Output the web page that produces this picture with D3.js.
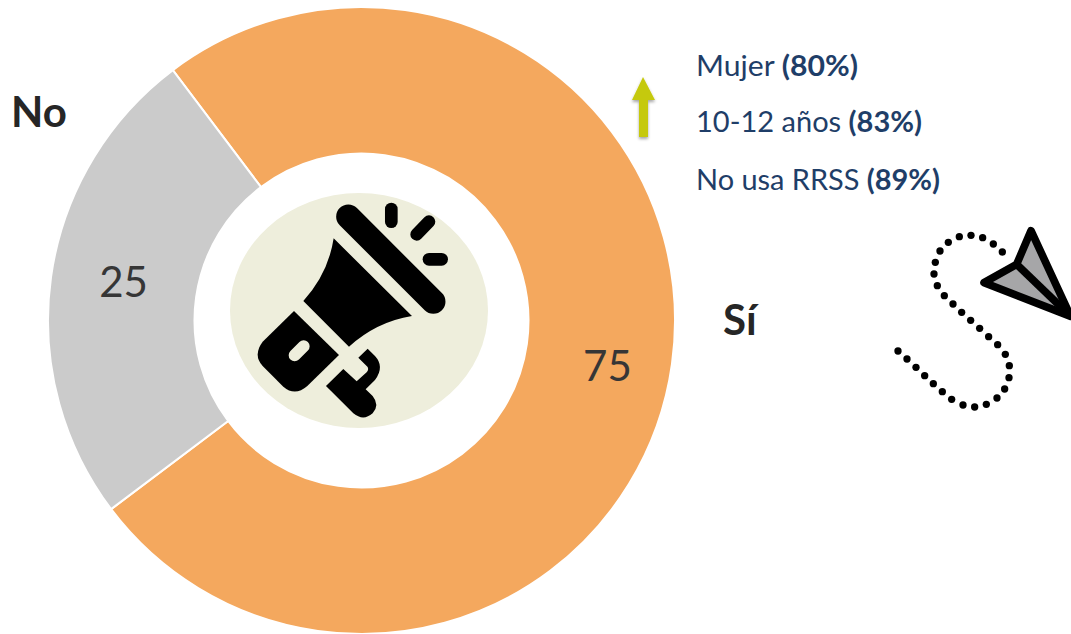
<!DOCTYPE html>
<html>
<head>
<meta charset="utf-8">
<script src="https://cdn.jsdelivr.net/npm/d3@7"></script>
<style>
  html, body { margin: 0; padding: 0; background: #fff; overflow: hidden; }
  svg { display: block; }
  text { font-family: Lato, "Open Sans", sans-serif; }
</style>
</head>
<body>
<div id="chart"></div>
<script>
const categories = ["Sí", "No"];
const values = [75, 25];
const sliceColors = ["#f4a85e", "#cbcbcb"];

const highlightLabels = ["Mujer", "10-12 años", "No usa RRSS"];
const highlightValues = [80, 83, 89];

const width = 1071, height = 634;
const cx = 361.5, cy = 320.5;
const outerRadius = 313.5, innerRadius = 167;

const svg = d3.select("#chart").append("svg")
    .attr("width", width)
    .attr("height", height);

const defs = svg.append("defs");
const blur = defs.append("filter").attr("id", "shadow")
    .attr("x", "-50%").attr("y", "-20%").attr("width", "200%").attr("height", "140%");
blur.append("feDropShadow")
    .attr("dx", 0).attr("dy", 2).attr("stdDeviation", 1.5)
    .attr("flood-color", "#000").attr("flood-opacity", 0.35);

// donut
const pie = d3.pie().sort(null).startAngle(-37 * Math.PI / 180).endAngle(323 * Math.PI / 180);
const arc = d3.arc().innerRadius(innerRadius).outerRadius(outerRadius);
const arcs = pie(values);

const donut = svg.append("g").attr("transform", "translate(" + cx + "," + cy + ")");

donut.selectAll("path")
    .data(arcs)
    .enter().append("path")
    .attr("d", arc)
    .attr("fill", function (d, i) { return sliceColors[i]; })
    .attr("stroke", "#fff")
    .attr("stroke-width", 2);

const valueNudge = [[8, 11], [0, -6]];
donut.selectAll(".value")
    .data(arcs)
    .enter().append("text")
    .attr("class", "value")
    .attr("x", function (d, i) { return arc.centroid(d)[0] + valueNudge[i][0]; })
    .attr("y", function (d, i) { return arc.centroid(d)[1] + valueNudge[i][1]; })
    .attr("text-anchor", "middle")
    .attr("dominant-baseline", "central")
    .attr("font-size", 42)
    .attr("fill", "#363636")
    .text(function (d) { return d.value; });

// category names
const categoryPos = [[723, 335], [11, 127]];
svg.selectAll(".category")
    .data(categories)
    .enter().append("text")
    .attr("class", "category")
    .attr("x", function (d, i) { return categoryPos[i][0]; })
    .attr("y", function (d, i) { return categoryPos[i][1]; })
    .attr("font-size", 42)
    .attr("font-weight", 700)
    .attr("fill", "#262626")
    .text(function (d) { return d; });

// megaphone, traced in zoomed coordinates
svg.append("ellipse")
    .attr("cx", 359).attr("cy", 310.5).attr("rx", 129).attr("ry", 117.5)
    .attr("fill", "#eeeedc");

const icon = svg.append("g").attr("transform", "translate(220,180) scale(0.3333)");
icon.append("line").attr("x1", 385).attr("y1", 110).attr("x2", 640).attr("y2", 365)
    .attr("stroke", "#000").attr("stroke-width", 73).attr("stroke-linecap", "round");
[[514, 87, 514, 125], [627, 125, 590, 163], [627, 238, 665, 238]].forEach(function (r) {
    icon.append("line").attr("x1", r[0]).attr("y1", r[1]).attr("x2", r[2]).attr("y2", r[3])
        .attr("stroke", "#000").attr("stroke-width", 38).attr("stroke-linecap", "round");
});
icon.append("path").attr("d", "M341,175 L576,408 Q470,425 387,500 L250,363 Q325,280 341,175 Z");
icon.append("path").attr("d", "M222,393 L357,525 L262,618 Q225,650 190,620 L128,558 Q98,525 128,485 Z");
icon.append("line").attr("x1", 224).attr("y1", 526).attr("x2", 251).attr("y2", 499)
    .attr("stroke", "#eeeedc").attr("stroke-width", 36).attr("stroke-linecap", "round");
icon.append("path").attr("d", "M443,506 L415,533 L443,561 Q447,570 440,577 L410,604 L370,567 L318,618 L400,700 Q430,725 458,700 Q480,675 458,648 L437,628 L465,600 Q495,560 465,528 Z");

// arrow
svg.append("path")
    .attr("d", "M643,77 L655,100 L648,100 L648,137 L639,137 L639,100 L632,100 Z")
    .attr("fill", "#c5c90e")
    .attr("filter", "url(#shadow)");

// highlight list
const rowBaselines = [76, 132, 190];
const rowWidths = [162, 226, 244];
const rows = svg.selectAll(".row")
    .data(highlightLabels)
    .enter().append("text")
    .attr("class", "row")
    .attr("x", 696)
    .attr("y", function (d, i) { return rowBaselines[i]; })
    .attr("textLength", function (d, i) { return rowWidths[i]; })
    .attr("lengthAdjust", "spacingAndGlyphs")
    .attr("font-size", 28)
    .attr("fill", "#1f3e68");
rows.append("tspan").text(function (d) { return d + " "; });
rows.append("tspan")
    .attr("font-weight", 700)
    .text(function (d, i) { return "(" + highlightValues[i] + "%)"; });

// paper plane and its dotted trail
const plane = svg.append("g").attr("transform", "translate(880,215) scale(0.3333)");
const trail = [[367,111],[340,87],[308,68],[273,61],[238,65],[205,82],[180,108],[166,142],[162,177],[172,212],[193,242],[219,267],[245,292],[272,316],[299,340],[326,365],[353,389],[376,418],[388,452],[387,488],[374,522],[351,549],[319,568],[284,576],[249,570],[215,553],[187,530],[160,506],[134,482],[108,457],[81,432],[54,408]];
plane.selectAll("circle")
    .data(trail)
    .enter().append("circle")
    .attr("cx", function (d) { return d[0]; })
    .attr("cy", function (d) { return d[1]; })
    .attr("r", 11);
plane.append("path")
    .attr("d", "M453,47 L572,304 L312,203 L410,148 Z")
    .attr("fill", "#a6a6a8")
    .attr("stroke", "#000").attr("stroke-width", 23).attr("stroke-linejoin", "round");
plane.append("line").attr("x1", 410).attr("y1", 148).attr("x2", 572).attr("y2", 304)
    .attr("stroke", "#000").attr("stroke-width", 23);
</script>
</body>
</html>
